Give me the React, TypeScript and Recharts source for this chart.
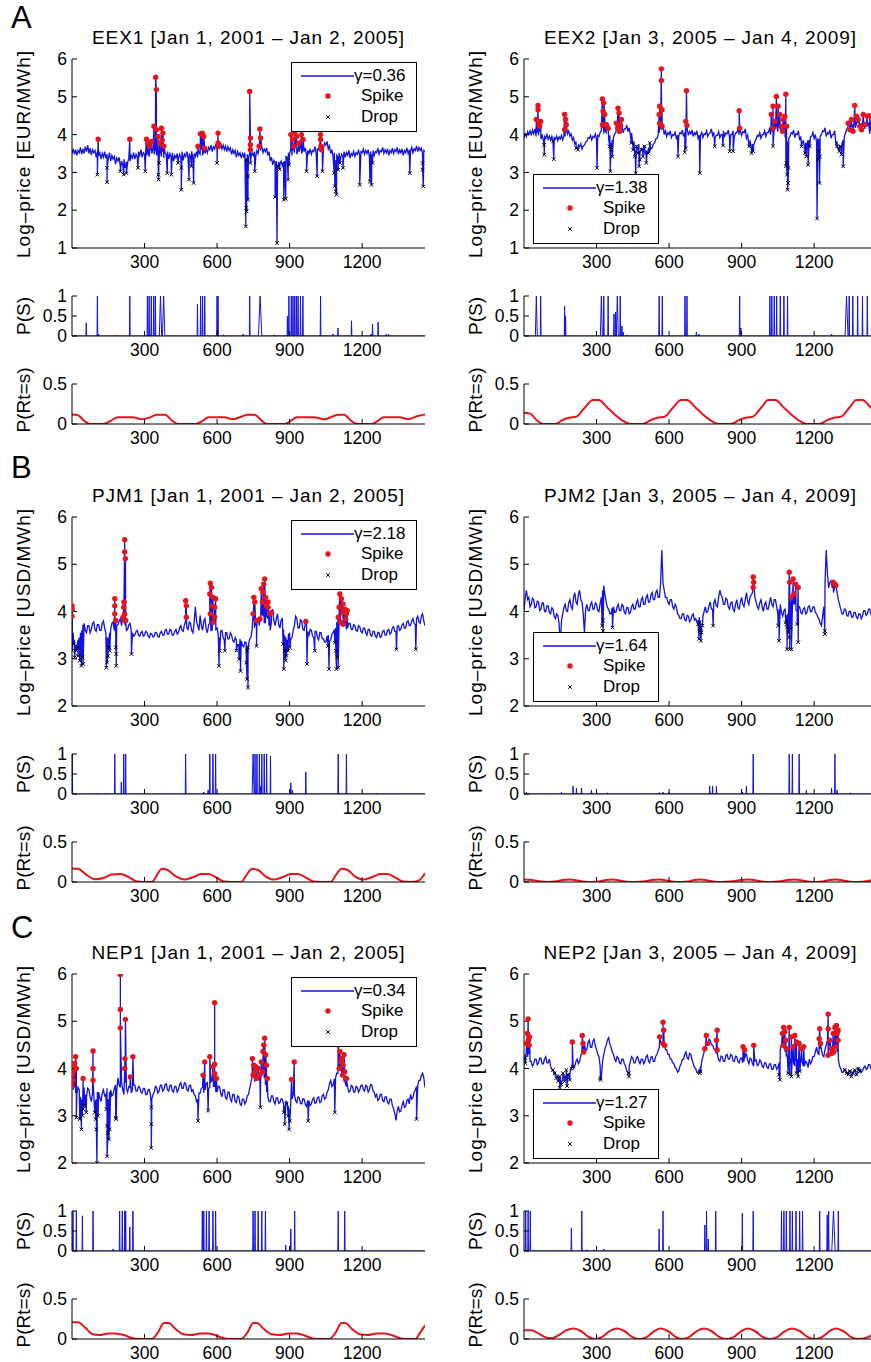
import React from "react"
import { ComposedChart, Line, Scatter, XAxis, YAxis } from "recharts"

const FONT = '"Liberation Sans", Arial, Helvetica, sans-serif'
const BLUE = "#1212e6"
const RED = "#e8141c"
const STEP = 5
const X_TICKS = [300, 600, 900, 1200]

// ---- EEX ----
const eex1Base = [
  3.5, 3.62, 3.48, 3.6, 3.45, 3.58, 3.52, 3.66, 3.48, 3.62, 3.5, 3.68, 3.55, 3.72, 3.5, 3.64, 3.46, 3.6, 3.52, 3.58,
  3.4, 3.55, 3.44, 3.52, 3.35, 3.5, 3.4, 3.55, 3.38, 3.48, 3.36, 3.52, 3.3, 3.45, 3.35, 3.42, 3.22, 3.38, 3.3, 3.4,
  3.15, 3.3, 3.2, 3.35, 3.12, 3.28, 3.25, 3.38, 3.3, 3.45, 3.38, 3.52, 3.35, 3.48, 3.4, 3.55, 3.45, 3.6, 3.4, 3.52,
  3.48, 3.6, 3.45, 3.55, 3.42, 3.58, 3.5, 3.62, 3.48, 3.62, 3.45, 3.6, 3.5, 3.58, 3.42, 3.55, 3.38, 3.52, 3.45, 3.55,
  3.35, 3.5, 3.4, 3.52, 3.3, 3.45, 3.38, 3.5, 3.35, 3.48, 3.4, 3.55, 3.32, 3.48, 3.42, 3.55, 3.38, 3.5, 3.42, 3.56,
  3.35, 3.5, 3.42, 3.55, 3.4, 3.52, 3.48, 3.6, 3.45, 3.58, 3.5, 3.62, 3.52, 3.66, 3.6, 3.72, 3.55, 3.68, 3.62, 3.75,
  3.6, 3.72, 3.65, 3.78, 3.62, 3.72, 3.6, 3.7, 3.55, 3.68, 3.58, 3.65, 3.48, 3.6, 3.5, 3.58, 3.4, 3.55, 3.45, 3.52,
  3.38, 3.5, 3.42, 3.52, 3.35, 3.48, 3.4, 3.5, 3.38, 3.52, 3.45, 3.55, 3.42, 3.58, 3.5, 3.65, 3.58, 3.68, 3.52, 3.62,
  3.55, 3.65, 3.45, 3.55, 3.3, 3.4, 3.2, 3.32, 3.25, 3.3, 3.15, 3.28, 3.22, 3.3, 3.18, 3.28, 3.3, 3.42, 3.4, 3.52,
  3.5, 3.62, 3.45, 3.58, 3.52, 3.65, 3.48, 3.6, 3.55, 3.68, 3.5, 3.62, 3.55, 3.65, 3.45, 3.58, 3.5, 3.62, 3.48, 3.58,
  3.55, 3.68, 3.5, 3.62, 3.6, 3.72, 3.55, 3.66, 3.65, 3.78, 3.72, 3.82, 3.62, 3.7, 3.5, 3.6, 3.4, 3.52, 3.32, 3.45,
  3.4, 3.52, 3.35, 3.48, 3.42, 3.55, 3.4, 3.52, 3.45, 3.58, 3.38, 3.5, 3.45, 3.56, 3.42, 3.52, 3.48, 3.6, 3.45, 3.55,
  3.52, 3.62, 3.48, 3.58, 3.5, 3.6, 3.42, 3.55, 3.48, 3.58, 3.45, 3.55, 3.52, 3.64, 3.48, 3.58, 3.55, 3.66, 3.5, 3.6,
  3.52, 3.62, 3.45, 3.58, 3.52, 3.64, 3.5, 3.6, 3.55, 3.66, 3.48, 3.6, 3.52, 3.62, 3.45, 3.58, 3.52, 3.65, 3.5, 3.6,
  3.55, 3.66, 3.52, 3.62, 3.58, 3.7, 3.55, 3.66, 3.58, 3.64, 3.48, 3.58, 3.55,
]
const eex1Spikes = [
  [108, 3.88], [239, 3.88], [308, 3.88], [314, 3.78], [321, 3.69], [328, 3.82], [339, 4.22], [346, 5.52],
  [349, 5.19], [349, 4.13], [356, 3.95], [363, 3.78], [370, 4.17], [373, 3.86], [376, 4.04], [380, 3.69],
  [521, 3.69], [531, 4.02], [539, 4.04], [545, 3.95], [549, 3.64], [604, 4.04], [604, 3.78], [607, 3.69],
  [735, 5.14], [738, 3.91], [738, 3.73], [738, 3.6], [777, 4.15], [780, 3.91], [774, 3.69], [905, 4.0],
  [912, 3.87], [919, 3.69], [922, 4.04], [928, 3.95], [938, 3.78], [949, 4.0], [956, 3.87], [1028, 4.0],
  [1028, 3.87], [1030, 3.69], [1032, 3.6],
]
const eex1Drops = [
  [105, 2.94], [145, 2.74], [145, 3.12], [200, 3.03], [214, 2.94], [225, 2.98], [273, 3.12], [303, 3.03],
  [357, 2.94], [358, 2.81], [360, 3.25], [394, 2.98], [411, 2.94], [439, 3.25], [452, 3.12], [452, 2.54],
  [484, 2.81], [494, 3.16], [503, 2.72], [600, 3.25], [719, 1.57], [721, 2.06], [722, 1.97], [728, 2.28],
  [728, 2.9], [721, 3.34], [738, 3.25], [756, 3.03], [840, 2.35], [848, 1.13], [852, 3.16], [859, 3.08],
  [876, 2.28], [884, 2.3], [894, 2.81], [898, 3.2], [970, 3.03], [1014, 2.9], [1036, 3.03], [1084, 2.98],
  [1087, 2.63], [1091, 2.5], [1094, 2.41], [1101, 3.07], [1108, 3.25], [1121, 3.12], [1190, 2.67],
  [1232, 2.76], [1239, 2.67], [1243, 3.25], [1397, 2.98], [1450, 3.25], [1453, 2.63], [1450, 3.07],
]
const eex1PS = [
  [59, 0.33], [105, 1], [110, 0.05], [177, 0.02], [239, 1], [312, 1], [319, 1], [328, 1], [338, 1], [345, 1],
  [366, 1, 5], [379, 1, 5], [519, 0.8], [532, 1], [540, 1], [549, 1], [600, 1], [604, 1], [627, 0.03],
  [708, 0.05], [735, 1], [778, 1, 7], [835, 0.03], [891, 0.5], [897, 1], [907, 1], [914, 1], [921, 1],
  [928, 1], [935, 1], [945, 1], [955, 1], [1028, 1], [1080, 0.05], [1100, 0.2], [1156, 0.38], [1237, 0.05],
  [1243, 0.3], [1266, 0.35], [1300, 0.05], [1310, 0.04],
]
const eex1PR = [
  [0, 0.12], [25, 0.11], [50, 0.04], [75, 0], [130, 0], [160, 0.04], [190, 0.085], [250, 0.085], [290, 0.06],
  [320, 0.08], [350, 0.115], [385, 0.115], [415, 0.04], [440, 0], [510, 0], [540, 0.04], [565, 0.085],
  [630, 0.085], [665, 0.06], [700, 0.09], [725, 0.115], [755, 0.115], [785, 0.04], [805, 0], [880, 0],
  [905, 0.04], [930, 0.085], [1000, 0.085], [1045, 0.06], [1075, 0.09], [1100, 0.115], [1125, 0.115],
  [1155, 0.04], [1180, 0], [1240, 0], [1265, 0.04], [1290, 0.085], [1355, 0.085], [1390, 0.06],
  [1430, 0.1], [1460, 0.12],
]

const eex2Base = [
  3.9, 4.02, 3.95, 4.08, 4.0, 4.1, 3.98, 4.12, 4.02, 4.15, 3.95, 4.05, 3.98, 4.08, 3.88, 3.98, 3.85, 3.95, 3.9, 4.0,
  3.88, 3.96, 3.85, 3.95, 3.82, 3.92, 3.88, 3.96, 3.84, 3.94, 3.88, 3.98, 3.86, 3.96, 3.95, 4.05, 4.02, 4.1, 3.96, 4.02,
  3.85, 3.92, 3.75, 3.82, 3.65, 3.72, 3.68, 3.76, 3.62, 3.7, 3.72, 3.8, 3.82, 3.92, 3.9, 3.98, 3.86, 3.95, 3.92, 4.02,
  3.88, 3.98, 3.95, 4.06, 4.1, 4.18, 4.02, 4.1, 4.05, 4.15, 3.9, 3.98, 3.78, 3.86, 3.92, 4.02, 4.05, 4.15, 4.02, 4.12,
  4.12, 4.22, 4.05, 4.15, 4.15, 4.25, 4.08, 4.18, 3.98, 4.05, 3.72, 3.82, 3.58, 3.68, 3.65, 3.75, 3.52, 3.62, 3.6, 3.7,
  3.48, 3.58, 3.58, 3.66, 3.52, 3.62, 3.65, 3.75, 3.78, 3.88, 3.9, 4.0, 4.05, 4.15, 4.12, 4.25, 4.0, 4.1, 3.95, 4.05,
  4.0, 4.1, 3.92, 4.0, 3.98, 4.06, 3.9, 3.98, 3.96, 4.05, 4.02, 4.12, 3.95, 4.05, 4.05, 4.15, 3.98, 4.08, 4.02, 4.12,
  3.95, 4.05, 4.0, 4.1, 3.9, 3.98, 3.98, 4.06, 3.92, 4.02, 4.0, 4.1, 3.95, 4.02, 4.05, 4.15, 3.98, 4.06, 3.9, 3.98,
  3.98, 4.08, 3.92, 4.0, 4.0, 4.1, 3.95, 4.04, 4.02, 4.12, 3.92, 4.0, 4.0, 4.1, 3.95, 4.04, 4.05, 4.15, 4.0, 4.1,
  3.98, 4.08, 4.05, 4.15, 3.9, 3.98, 3.75, 3.85, 3.65, 3.75, 3.72, 3.82, 3.88, 3.98, 3.95, 4.05, 3.9, 4.0, 4.0, 4.1,
  3.95, 4.05, 4.05, 4.15, 4.0, 4.1, 4.1, 4.2, 4.15, 4.25, 4.08, 4.18, 4.12, 4.22, 4.05, 4.15, 3.92, 4.0, 3.82, 3.9,
  3.95, 4.05, 4.02, 4.12, 3.92, 4.02, 4.0, 4.1, 3.85, 3.95, 3.75, 3.85, 3.68, 3.78, 3.75, 3.85, 3.85, 3.95, 3.96, 4.06,
  3.9, 4.0, 3.8, 3.9, 3.88, 3.96, 4.0, 4.1, 4.08, 4.18, 3.95, 4.05, 4.02, 4.12, 3.9, 4.0, 4.0, 4.1, 3.75, 3.82,
  3.62, 3.7, 3.68, 3.76, 3.85, 3.95, 4.05, 4.15, 4.2, 4.3, 4.12, 4.22, 4.25, 4.35, 4.18, 4.28, 4.3, 4.4, 4.2, 4.3,
  4.25, 4.35, 4.15, 4.25, 4.22, 4.32, 4.02, 4.12, 4.08, 4.18, 4.0, 4.1, 4.05,
]
const eex2Spikes = [
  [58, 4.77], [58, 4.66], [51, 4.4], [62, 4.26], [69, 4.35], [65, 4.22], [168, 4.53], [172, 4.4], [175, 4.26],
  [168, 4.13], [324, 4.94], [330, 4.84], [327, 4.62], [334, 4.53], [341, 4.26], [324, 4.26], [348, 4.17],
  [389, 4.7], [393, 4.57], [382, 4.3], [389, 4.17], [399, 4.24], [403, 4.4], [396, 4.09], [568, 5.74],
  [568, 5.43], [561, 4.75], [571, 4.66], [559, 4.53], [561, 4.3], [571, 4.22], [672, 5.16], [669, 4.35],
  [674, 4.24], [890, 4.63], [892, 4.17], [1044, 5.01], [1051, 4.75], [1030, 4.75], [1023, 4.53], [1037, 4.35],
  [1058, 4.53], [1065, 4.22], [1072, 4.4], [1083, 5.07], [1079, 4.49], [1086, 4.22], [1069, 4.09], [1030, 4.17],
  [1341, 4.3], [1354, 4.4], [1368, 4.77], [1375, 4.49], [1389, 4.22], [1403, 4.53], [1419, 4.49], [1348, 4.13],
  [1361, 4.09], [1382, 4.4], [1396, 4.13], [1410, 4.26], [1430, 4.5],
]
const eex2Drops = [
  [83, 3.73], [84, 3.47], [123, 3.35], [120, 3.82], [223, 3.6], [216, 3.64], [302, 3.12], [354, 3.69],
  [357, 3.03], [361, 3.6], [365, 3.42], [444, 3.78], [451, 3.6], [458, 3.42], [465, 3.69], [472, 3.51],
  [479, 3.34], [486, 3.6], [492, 3.42], [499, 3.69], [506, 3.25], [513, 3.51], [520, 3.78], [476, 3.16],
  [462, 2.98], [637, 3.42], [665, 3.53], [669, 3.64], [727, 2.98], [789, 3.69], [823, 3.71], [851, 3.56],
  [865, 3.56], [931, 3.69], [941, 3.51], [948, 3.56], [1030, 3.69], [1086, 3.25], [1088, 2.94], [1090, 2.54],
  [1083, 3.16], [1094, 3.12], [1092, 2.72], [1148, 3.69], [1162, 3.51], [1175, 3.2], [1182, 3.69],
  [1168, 3.42], [1212, 1.78], [1217, 3.34], [1222, 2.72], [1219, 3.56], [1224, 3.42], [1295, 3.69],
  [1304, 3.56], [1313, 3.47], [1320, 3.16], [1308, 3.69],
]
const eex2PS = [
  [51, 1, 4], [69, 1], [168, 0.75], [172, 0.5], [320, 1, 4], [330, 1], [348, 1], [372, 0.55], [379, 0.6],
  [386, 1, 4], [398, 1], [405, 0.25], [410, 0.1], [425, 0.03], [559, 1], [572, 1], [666, 1], [674, 1],
  [713, 0.1], [724, 0.05], [892, 1], [897, 0.2], [1017, 1], [1025, 1], [1035, 1], [1045, 1], [1060, 1],
  [1075, 1], [1090, 1], [1272, 0.05], [1334, 1, 6], [1345, 1], [1360, 1], [1380, 1], [1400, 1], [1420, 1],
]
const eex2PR = [
  [0, 0.14], [25, 0.13], [55, 0.04], [80, 0], [130, 0], [160, 0.05], [190, 0.08], [215, 0.09], [250, 0.2],
  [285, 0.3], [310, 0.3], [340, 0.22], [375, 0.12], [410, 0.04], [440, 0], [490, 0], [525, 0.05], [555, 0.08],
  [580, 0.09], [615, 0.2], [650, 0.3], [675, 0.3], [705, 0.22], [740, 0.12], [775, 0.04], [805, 0], [855, 0],
  [890, 0.05], [920, 0.08], [945, 0.09], [980, 0.2], [1010, 0.3], [1040, 0.3], [1070, 0.22], [1105, 0.12],
  [1140, 0.04], [1170, 0], [1220, 0], [1255, 0.05], [1285, 0.08], [1310, 0.09], [1345, 0.2], [1375, 0.3],
  [1400, 0.3], [1430, 0.22], [1460, 0.12],
]

// ---- PJM ----
const pjm1Base = [
  3.75, 3.55, 3.4, 3.3, 3.25, 3.4, 3.45, 3.55, 3.6, 3.72, 3.75, 3.6, 3.55, 3.7, 3.7, 3.55, 3.62, 3.75, 3.78, 3.62,
  3.58, 3.72, 3.72, 3.6, 3.6, 3.75, 3.8, 3.65, 3.55, 3.45, 3.45, 3.55, 3.62, 3.75, 3.78, 3.6, 3.55, 3.7, 3.72, 3.8,
  3.85, 3.7, 3.9, 3.75, 3.7, 3.6, 3.62, 3.72, 3.75, 3.6, 3.55, 3.48, 3.5, 3.58, 3.6, 3.5, 3.48, 3.55, 3.58, 3.48,
  3.5, 3.58, 3.56, 3.48, 3.45, 3.54, 3.52, 3.46, 3.48, 3.56, 3.55, 3.47, 3.46, 3.55, 3.58, 3.5, 3.5, 3.6, 3.62, 3.52,
  3.52, 3.62, 3.6, 3.5, 3.5, 3.58, 3.62, 3.52, 3.55, 3.65, 3.7, 3.6, 3.58, 3.72, 3.8, 3.65, 3.62, 3.78, 3.75, 3.6,
  3.55, 3.75, 4.1, 3.8, 3.7, 3.6, 3.92, 3.7, 3.6, 3.8, 3.85, 3.62, 3.55, 3.72, 3.75, 3.58, 3.6, 3.75, 3.8, 3.62,
  3.65, 3.5, 3.45, 3.58, 3.6, 3.45, 3.4, 3.55, 3.55, 3.42, 3.42, 3.55, 3.5, 3.38, 3.35, 3.45, 3.4, 3.3, 3.3, 3.42,
  3.38, 3.28, 3.25, 3.35, 3.35, 3.25, 3.3, 3.42, 3.45, 3.62, 3.8, 3.65, 3.7, 3.85, 3.85, 3.7, 3.78, 3.92, 3.9, 3.75,
  3.75, 3.9, 3.85, 3.7, 3.6, 3.8, 4.05, 3.8, 3.7, 3.85, 3.95, 3.72, 3.65, 3.82, 3.85, 3.62, 3.5, 3.45, 3.4, 3.5,
  3.55, 3.42, 3.45, 3.6, 3.7, 3.9, 3.85, 3.65, 3.65, 3.82, 3.8, 3.62, 3.6, 3.75, 3.75, 3.58, 3.5, 3.62, 3.6, 3.48,
  3.45, 3.58, 3.58, 3.45, 3.4, 3.55, 3.55, 3.42, 3.42, 3.35, 3.35, 3.48, 3.5, 3.38, 3.4, 3.52, 3.55, 3.62, 3.65, 3.78,
  3.8, 3.88, 3.85, 3.95, 3.9, 3.78, 3.7, 3.62, 3.65, 3.75, 3.75, 3.62, 3.62, 3.72, 3.7, 3.6, 3.58, 3.7, 3.68, 3.58,
  3.55, 3.65, 3.65, 3.55, 3.5, 3.62, 3.62, 3.5, 3.48, 3.58, 3.58, 3.48, 3.45, 3.56, 3.55, 3.45, 3.48, 3.58, 3.6, 3.5,
  3.5, 3.6, 3.62, 3.52, 3.55, 3.65, 3.68, 3.58, 3.58, 3.68, 3.7, 3.6, 3.62, 3.72, 3.75, 3.65, 3.65, 3.78, 3.8, 3.7,
  3.7, 3.8, 3.85, 3.75, 3.72, 3.85, 3.9, 3.78, 3.75, 3.9, 3.95, 3.8, 3.7,
]
const pjm1Spikes = [
  [0, 4.12], [0, 3.9], [1, 4.05], [177, 4.27], [177, 4.12], [177, 3.95], [181, 3.81], [218, 5.52], [218, 5.26],
  [221, 5.12], [215, 4.2], [214, 4.09], [218, 3.95], [222, 3.81], [211, 3.88], [470, 4.23], [473, 4.12],
  [473, 3.88], [572, 4.6], [577, 4.51], [570, 4.37], [583, 4.3], [581, 4.12], [590, 4.09], [572, 3.95],
  [590, 3.88], [583, 3.77], [594, 4.27], [752, 4.3], [756, 4.2], [749, 3.95], [763, 3.81], [777, 3.84],
  [790, 4.41], [797, 4.69], [793, 4.58], [801, 4.3], [804, 4.12], [811, 4.09], [818, 3.95], [825, 3.98],
  [788, 4.2], [783, 4.48], [811, 4.2], [967, 3.79], [1108, 4.37], [1114, 4.27], [1121, 4.16], [1128, 4.05],
  [1135, 3.95], [1101, 3.88], [1110, 3.77], [1121, 3.73], [1132, 3.84], [1138, 4.02], [1105, 4.09], [1119, 3.98],
]
const pjm1Drops = [
  [1, 3.17], [7, 3.31], [11, 3.03], [18, 3.17], [25, 3.06], [32, 2.96], [39, 2.85], [43, 3.03], [46, 2.89],
  [25, 3.24], [149, 3.06], [145, 2.92], [142, 2.81], [153, 3.24], [156, 3.17], [181, 3.24], [183, 3.1],
  [183, 2.85], [246, 3.1], [608, 2.85], [611, 3.17], [632, 3.17], [680, 3.17], [691, 2.99], [697, 2.74],
  [721, 2.92], [724, 2.57], [728, 2.39], [724, 3.17], [728, 3.24], [763, 3.27], [873, 3.31], [880, 3.17],
  [887, 3.06], [894, 3.17], [884, 2.96], [876, 2.78], [901, 3.24], [972, 2.89], [1004, 3.17], [1059, 3.27],
  [1063, 2.78], [1087, 3.34], [1091, 3.17], [1094, 2.78], [1101, 2.81], [1097, 3.03], [1342, 3.2], [1422, 3.2],
]
const pjm1PS = [
  [1, 1], [100, 0.02], [140, 0.02], [177, 1], [204, 0.3], [214, 1], [222, 1], [470, 1], [545, 0.05],
  [563, 0.1], [570, 1], [583, 1], [594, 1], [749, 1, 4], [757, 1], [765, 1], [775, 1], [780, 0.2], [785, 1],
  [795, 1], [805, 1], [821, 0.95], [905, 0.28], [912, 0.1], [967, 0.55], [1101, 1], [1135, 1], [1260, 0.02],
]
const pjm1PR = [
  [0, 0.17], [25, 0.165], [60, 0.09], [95, 0.035], [130, 0.05], [165, 0.095], [200, 0.1], [235, 0.06],
  [265, 0.01], [290, 0], [330, 0], [350, 0.08], [372, 0.165], [395, 0.15], [430, 0.07], [465, 0.03],
  [500, 0.06], [535, 0.1], [565, 0.1], [600, 0.05], [630, 0.005], [660, 0], [700, 0], [720, 0.08],
  [745, 0.165], [770, 0.15], [800, 0.07], [835, 0.03], [870, 0.06], [905, 0.1], [935, 0.1], [970, 0.05],
  [1000, 0.005], [1030, 0], [1070, 0], [1090, 0.08], [1115, 0.165], [1140, 0.15], [1170, 0.07],
  [1205, 0.03], [1240, 0.06], [1275, 0.1], [1305, 0.1], [1340, 0.05], [1370, 0.005], [1400, 0],
  [1435, 0.02], [1460, 0.11],
]

const pjm2Base = [
  4.02, 4.3, 4.45, 4.25, 4.3, 4.1, 4.15, 4.28, 4.25, 4.08, 4.1, 4.22, 4.2, 4.02, 4.05, 4.18, 4.18, 4.0, 4.0, 4.12,
  4.12, 3.98, 3.95, 4.08, 4.05, 3.9, 3.85, 3.95, 3.92, 3.75, 3.3, 3.8, 3.95, 4.08, 4.15, 4.02, 4.0, 4.18, 4.25, 4.1,
  4.05, 4.3, 4.4, 4.2, 4.15, 4.35, 4.45, 4.25, 4.2, 3.95, 3.55, 4.05, 4.15, 4.02, 4.02, 4.15, 4.2, 4.05, 4.05, 4.18,
  4.15, 4.02, 4.0, 4.18, 4.3, 4.45, 4.55, 4.35, 4.2, 4.08, 4.05, 3.95, 3.95, 4.08, 4.1, 3.98, 3.98, 4.1, 4.15, 4.02,
  4.02, 4.15, 4.12, 3.98, 3.95, 4.08, 4.08, 3.95, 3.98, 4.1, 4.15, 4.05, 4.05, 4.18, 4.25, 4.1, 4.1, 4.25, 4.3, 4.15,
  4.15, 4.3, 4.35, 4.2, 4.2, 4.35, 4.4, 4.25, 4.25, 4.4, 4.45, 4.3, 4.3, 4.6, 5.3, 4.6, 4.45, 4.3, 4.3, 4.2,
  4.15, 4.25, 4.25, 4.1, 4.05, 4.15, 4.1, 3.95, 3.92, 3.85, 3.85, 3.95, 3.95, 3.82, 3.8, 3.92, 3.9, 3.78, 3.82, 3.92,
  3.95, 3.82, 3.85, 3.78, 3.8, 3.88, 3.75, 3.68, 3.9, 4.0, 4.1, 3.98, 4.0, 4.12, 4.2, 4.05, 4.05, 4.18, 4.25, 4.12,
  4.1, 4.3, 4.45, 4.35, 4.3, 4.15, 4.15, 4.28, 4.25, 4.1, 4.05, 4.18, 4.2, 4.05, 4.0, 4.15, 4.25, 4.08, 4.05, 4.2,
  4.3, 4.15, 4.1, 4.25, 4.4, 4.22, 4.15, 4.3, 4.35, 4.4, 4.45, 4.3, 4.2, 4.1, 4.05, 4.18, 4.25, 4.1, 4.0, 4.15,
  4.2, 4.05, 4.05, 4.18, 4.3, 4.15, 4.1, 4.25, 4.25, 4.1, 3.95, 4.05, 4.15, 3.98, 3.9, 4.02, 4.05, 3.92, 3.95, 4.05,
  4.2, 4.08, 4.05, 4.15, 4.15, 4.02, 4.0, 4.12, 4.1, 3.98, 3.95, 4.05, 4.08, 3.95, 3.98, 4.1, 4.12, 4.0, 4.0, 4.1,
  4.1, 3.98, 3.95, 3.88, 3.85, 3.75, 3.7, 3.9, 4.1, 4.6, 5.3, 4.8, 4.5, 4.62, 4.65, 4.5, 4.4, 4.52, 4.55, 4.4,
  4.25, 4.15, 4.05, 3.95, 3.95, 4.05, 4.05, 3.92, 3.9, 4.0, 4.0, 3.88, 3.88, 3.98, 3.98, 3.88, 3.85, 3.95, 3.95, 3.85,
  3.9, 4.02, 4.02, 3.92, 3.95, 4.05, 4.05, 3.95, 4.0, 4.08, 3.95, 3.98, 4.02,
]
const pjm2Spikes = [
  [948, 4.73], [950, 4.62], [948, 4.51], [1097, 4.83], [1099, 4.62], [1113, 4.69], [1124, 4.58], [1134, 4.51],
  [1106, 4.3], [1116, 4.37], [1279, 4.62], [1286, 4.58], [1290, 4.55],
]
const pjm2Drops = [
  [327, 3.81], [327, 3.59], [323, 3.7], [366, 3.66], [727, 3.77], [730, 3.66], [734, 3.56], [724, 3.42],
  [731, 3.38], [727, 3.59], [738, 3.7], [720, 3.73], [782, 3.7], [1051, 3.7], [1055, 3.38], [1086, 3.73],
  [1088, 3.66], [1092, 3.56], [1097, 3.45], [1099, 3.2], [1088, 3.2], [1106, 3.2], [1102, 3.63], [1083, 3.77],
  [1130, 3.73], [1134, 3.35], [1244, 3.59], [1244, 3.52],
]
const pjm2PS = [
  [10, 0.05], [155, 0.05], [203, 0.2], [217, 0.15], [238, 0.15], [279, 0.1], [300, 0.05], [345, 0.03],
  [560, 0.04], [575, 0.05], [600, 0.04], [768, 0.2], [780, 0.2], [796, 0.2], [904, 0.05], [920, 0.2],
  [948, 1], [1097, 1], [1110, 1], [1138, 1], [1168, 0.1], [1272, 0.15], [1286, 1], [1295, 0.1], [1350, 0.03],
]
const pjm2PR = [
  [0, 0.03], [30, 0.025], [70, 0.005], [100, 0], [130, 0.005], [160, 0.025], [190, 0.03], [220, 0.02],
  [250, 0.003], [280, 0], [310, 0.005], [340, 0.025], [365, 0.03], [395, 0.02], [425, 0.003], [460, 0],
  [495, 0.005], [530, 0.025], [560, 0.03], [590, 0.02], [620, 0.003], [650, 0], [680, 0.005], [705, 0.025],
  [730, 0.03], [760, 0.02], [790, 0.003], [820, 0], [855, 0.005], [900, 0.025], [930, 0.03], [960, 0.02],
  [990, 0.003], [1020, 0], [1055, 0.005], [1090, 0.025], [1120, 0.03], [1150, 0.02], [1180, 0.003],
  [1210, 0], [1235, 0.005], [1265, 0.025], [1290, 0.03], [1320, 0.02], [1350, 0.003], [1380, 0],
  [1410, 0.005], [1440, 0.025], [1460, 0.03],
]

// ---- NEP ----
const nep1Base = [
  3.7, 3.55, 3.6, 3.48, 3.45, 3.6, 3.55, 3.4, 3.35, 3.5, 3.6, 3.45, 3.4, 3.58, 3.55, 3.4, 3.3, 3.48, 3.45, 3.32,
  3.35, 3.5, 3.5, 3.38, 3.3, 3.48, 3.55, 3.42, 3.45, 3.58, 3.35, 3.5, 3.55, 3.42, 3.45, 3.58, 3.65, 3.52, 3.8, 3.65,
  3.6, 3.72, 3.55, 3.45, 3.7, 3.58, 3.5, 3.62, 3.6, 3.48, 3.55, 3.65, 3.65, 3.52, 3.52, 3.62, 3.6, 3.5, 3.48, 3.58,
  3.58, 3.45, 3.45, 3.55, 3.55, 3.42, 3.35, 3.45, 3.5, 3.62, 3.6, 3.48, 3.52, 3.64, 3.65, 3.52, 3.55, 3.66, 3.68, 3.55,
  3.52, 3.64, 3.65, 3.52, 3.5, 3.62, 3.62, 3.5, 3.55, 3.66, 3.7, 3.58, 3.58, 3.7, 3.68, 3.55, 3.52, 3.64, 3.65, 3.52,
  3.55, 3.45, 3.42, 3.3, 3.35, 3.48, 3.48, 3.58, 3.6, 3.48, 3.55, 3.68, 3.7, 3.58, 3.6, 3.72, 3.75, 3.62, 3.62, 3.5,
  3.5, 3.62, 3.62, 3.48, 3.4, 3.55, 3.55, 3.38, 3.35, 3.5, 3.5, 3.35, 3.3, 3.45, 3.45, 3.3, 3.28, 3.42, 3.4, 3.25,
  3.22, 3.35, 3.35, 3.25, 3.3, 3.42, 3.45, 3.58, 3.7, 3.82, 3.85, 3.72, 3.75, 3.9, 3.9, 3.75, 3.7, 3.85, 3.95, 3.8,
  3.65, 3.5, 3.4, 3.3, 3.3, 3.42, 3.42, 3.3, 3.25, 3.38, 3.38, 3.26, 3.28, 3.36, 3.35, 3.25, 3.2, 3.32, 3.3, 3.2,
  3.15, 3.3, 3.35, 3.45, 3.45, 3.32, 3.28, 3.4, 3.38, 3.26, 3.25, 3.36, 3.35, 3.24, 3.2, 3.32, 3.32, 3.22, 3.25, 3.35,
  3.38, 3.26, 3.28, 3.38, 3.4, 3.28, 3.3, 3.42, 3.45, 3.35, 3.38, 3.5, 3.55, 3.68, 3.75, 3.62, 3.65, 3.78, 3.8, 3.9,
  3.9, 4.0, 4.05, 3.9, 3.85, 3.72, 3.7, 3.62, 3.6, 3.5, 3.52, 3.64, 3.62, 3.5, 3.5, 3.62, 3.6, 3.5, 3.55, 3.64,
  3.65, 3.55, 3.52, 3.64, 3.62, 3.5, 3.55, 3.66, 3.65, 3.52, 3.5, 3.4, 3.45, 3.32, 3.35, 3.45, 3.45, 3.32, 3.3, 3.4,
  3.4, 3.28, 3.25, 3.35, 3.35, 3.22, 3.15, 3.05, 2.9, 3.1, 3.2, 3.08, 3.1, 3.22, 3.3, 3.18, 3.2, 3.32, 3.35, 3.25,
  3.45, 3.35, 3.38, 3.5, 3.55, 3.62, 3.65, 3.75, 3.75, 3.85, 3.9, 3.8, 3.6,
]
const nep1Spikes = [
  [0, 3.64], [4, 3.75], [7, 3.93], [11, 4.11], [15, 4.25], [7, 4.07], [18, 4.0], [1, 3.86], [46, 3.79],
  [87, 4.37], [87, 4.0], [87, 3.75], [200, 5.99], [200, 5.25], [200, 4.86], [221, 5.04], [219, 4.21],
  [218, 4.0], [241, 3.82], [252, 4.25], [542, 3.86], [549, 4.14], [570, 4.25], [590, 4.09], [590, 5.39],
  [590, 3.89], [597, 3.79], [583, 4.04], [746, 4.21], [752, 4.07], [756, 3.93], [763, 3.79], [770, 4.0],
  [777, 3.86], [783, 4.14], [790, 4.36], [793, 4.5], [797, 4.64], [801, 4.29], [804, 4.07], [788, 3.93],
  [808, 3.79], [749, 3.86], [760, 4.04], [908, 3.77], [919, 4.14], [1101, 4.5], [1108, 4.36], [1115, 4.21],
  [1121, 4.07], [1128, 3.93], [1105, 4.0], [1119, 3.86], [1135, 3.79], [1112, 4.14], [1125, 4.29],
]
const nep1Drops = [
  [18, 2.96], [32, 2.93], [39, 2.71], [46, 3.14], [52, 3.21], [59, 3.07], [43, 3.0], [94, 3.07], [98, 2.93],
  [101, 2.71], [103, 2.0], [108, 3.0], [142, 3.14], [145, 2.79], [149, 2.64], [145, 2.14], [153, 2.5],
  [156, 2.71], [181, 2.96], [183, 2.93], [328, 3.18], [328, 2.82], [328, 2.32], [521, 2.89], [563, 3.11],
  [779, 3.18], [876, 3.07], [880, 2.82], [887, 3.25], [894, 3.0], [898, 2.71], [901, 2.89], [977, 2.89],
  [1087, 3.07], [1425, 2.93],
]
const nep1PS = [
  [4, 1], [18, 1], [43, 0.88], [87, 1], [170, 0.05], [197, 1], [208, 1], [218, 1], [222, 1], [239, 0.6],
  [252, 1], [539, 1], [545, 1], [556, 1], [567, 1], [583, 1], [594, 1], [749, 1], [757, 1], [770, 1],
  [785, 1], [800, 1], [884, 0.15], [905, 0.55], [921, 1], [1101, 1], [1128, 1], [1210, 0.03],
]
const nep1PR = [
  [0, 0.21], [25, 0.21], [55, 0.14], [85, 0.06], [115, 0.05], [150, 0.07], [180, 0.07], [215, 0.05],
  [250, 0.01], [280, 0], [330, 0], [355, 0.08], [380, 0.2], [400, 0.2], [430, 0.12], [460, 0.06],
  [495, 0.05], [530, 0.07], [565, 0.07], [600, 0.04], [630, 0.005], [650, 0], [700, 0], [725, 0.08],
  [750, 0.2], [765, 0.2], [795, 0.12], [825, 0.06], [860, 0.05], [895, 0.07], [930, 0.07], [965, 0.04],
  [995, 0.005], [1015, 0], [1065, 0], [1090, 0.08], [1115, 0.2], [1130, 0.2], [1160, 0.12], [1190, 0.06],
  [1225, 0.05], [1260, 0.07], [1295, 0.07], [1330, 0.04], [1360, 0.005], [1380, 0], [1420, 0],
  [1440, 0.08], [1460, 0.17],
]

const nep2Base = [
  4.15, 4.3, 4.4, 4.25, 4.3, 4.15, 4.15, 4.05, 4.1, 4.2, 4.2, 4.08, 4.12, 4.22, 4.22, 4.1, 4.1, 4.2, 4.25, 4.12,
  4.12, 4.2, 4.05, 3.98, 3.95, 3.88, 3.9, 3.82, 3.85, 3.78, 3.8, 3.72, 3.75, 3.85, 3.85, 3.76, 3.78, 3.88, 3.9, 4.0,
  4.1, 4.0, 4.05, 4.15, 4.2, 4.1, 4.15, 4.28, 4.35, 4.45, 4.5, 4.38, 4.4, 4.55, 4.6, 4.45, 4.45, 4.58, 4.62, 4.48,
  4.4, 4.3, 4.25, 4.05, 3.85, 4.15, 4.3, 4.42, 4.5, 4.6, 4.65, 4.52, 4.45, 4.35, 4.3, 4.2, 4.15, 4.25, 4.22, 4.12,
  4.1, 4.2, 4.2, 4.1, 4.05, 3.95, 3.9, 4.05, 4.15, 4.25, 4.22, 4.12, 4.12, 4.22, 4.25, 4.15, 4.1, 4.2, 4.2, 4.1,
  4.15, 4.25, 4.28, 4.16, 4.12, 4.24, 4.25, 4.15, 4.15, 4.26, 4.3, 4.38, 4.45, 4.55, 4.55, 4.45, 4.5, 4.4, 4.4, 4.3,
  4.3, 4.2, 4.2, 4.12, 4.1, 4.02, 4.0, 3.92, 3.95, 4.05, 4.1, 4.2, 4.2, 4.3, 4.35, 4.22, 4.2, 4.32, 4.3, 4.18,
  4.1, 4.02, 4.0, 3.92, 3.9, 3.98, 4.05, 4.15, 4.25, 4.35, 4.4, 4.5, 4.5, 4.62, 4.6, 4.5, 4.5, 4.42, 4.4, 4.32,
  4.3, 4.18, 4.15, 4.26, 4.25, 4.15, 4.15, 4.28, 4.3, 4.2, 4.2, 4.3, 4.28, 4.16, 4.15, 4.26, 4.25, 4.14, 4.12, 4.22,
  4.22, 4.12, 4.15, 4.25, 4.3, 4.18, 4.1, 4.22, 4.2, 4.1, 4.05, 4.16, 4.18, 4.06, 4.08, 4.18, 4.15, 4.05, 4.02, 4.12,
  4.12, 4.02, 4.0, 4.1, 4.1, 3.98, 3.98, 4.08, 4.08, 3.98, 4.02, 4.12, 4.4, 4.5, 4.55, 4.42, 4.35, 4.25, 4.2, 4.3,
  4.1, 4.22, 4.25, 4.12, 4.05, 4.15, 4.2, 4.08, 4.1, 4.2, 4.15, 4.05, 4.05, 4.15, 4.12, 4.02, 4.2, 4.1, 4.15, 4.25,
  4.25, 4.35, 4.45, 4.32, 4.3, 4.42, 4.4, 4.28, 4.25, 4.4, 4.5, 4.6, 4.6, 4.48, 4.4, 4.3, 4.35, 4.45, 4.5, 4.35,
  4.2, 4.05, 4.0, 3.92, 3.92, 3.98, 3.98, 3.9, 3.9, 3.96, 3.95, 3.88, 3.88, 3.96, 3.95, 3.88, 3.9, 3.98, 4.0, 3.92,
  3.95, 4.02, 4.05, 3.98, 4.0, 4.08, 4.08, 4.0, 4.02, 4.1, 4.1, 4.02, 4.05,
]
const nep2Spikes = [
  [17, 5.05], [14, 4.74], [18, 4.6], [21, 4.49], [23, 4.67], [10, 4.53], [200, 4.56], [241, 4.7], [244, 4.53],
  [247, 4.35], [561, 4.67], [575, 4.98], [578, 4.81], [575, 4.53], [582, 4.49], [748, 4.42], [754, 4.7],
  [759, 4.53], [799, 4.81], [796, 4.6], [799, 4.39], [906, 4.46], [913, 4.39], [950, 4.49], [1069, 4.74],
  [1074, 4.87], [1079, 4.78], [1083, 4.6], [1086, 4.42], [1097, 4.87], [1106, 4.67], [1113, 4.46], [1120, 4.7],
  [1127, 4.56], [1138, 4.53], [1148, 4.42], [1157, 4.46], [1072, 4.49], [1223, 4.84], [1221, 4.63],
  [1226, 4.53], [1258, 5.15], [1258, 4.84], [1265, 4.6], [1258, 4.28], [1272, 4.42], [1279, 4.74],
  [1286, 4.87], [1292, 4.91], [1295, 4.74], [1299, 4.6], [1290, 4.46], [1281, 4.35], [1272, 4.32], [1299, 4.81],
]
const nep2Drops = [
  [3, 4.22], [6, 4.11], [120, 3.97], [127, 3.9], [134, 3.8], [141, 3.73], [148, 3.83], [154, 3.66], [161, 3.9],
  [168, 3.73], [175, 3.97], [182, 3.87], [189, 3.76], [196, 4.0], [148, 3.59], [178, 3.63], [203, 4.04],
  [316, 3.8], [316, 3.76], [434, 3.9], [434, 3.83], [727, 3.9], [730, 3.94], [1055, 3.87], [1058, 3.76],
  [1092, 3.9], [1099, 3.87], [1106, 3.83], [1127, 3.9], [1134, 3.83], [1141, 3.94], [1327, 3.97], [1334, 3.9],
  [1341, 3.87], [1348, 3.94], [1354, 3.83], [1361, 3.9], [1368, 3.97], [1375, 3.87], [1382, 4.0], [1389, 3.94],
]
const nep2PS = [
  [7, 1], [17, 1], [26, 1], [196, 0.57], [239, 1], [260, 0.03], [290, 0.03], [330, 0.05], [559, 0.55],
  [575, 1], [748, 0.65], [755, 1], [762, 0.3], [793, 1], [903, 0.95], [948, 1], [1065, 1], [1075, 1],
  [1085, 1], [1100, 1], [1110, 1], [1125, 1], [1140, 1], [1152, 1], [1223, 1], [1254, 0.9], [1260, 1],
  [1280, 1, 7], [1300, 1],
]
const nep2PR = [
  [0, 0.11], [30, 0.11], [60, 0.07], [90, 0.02], [115, 0.01], [145, 0.05], [175, 0.11], [205, 0.13],
  [235, 0.1], [265, 0.03], [290, 0], [320, 0.02], [350, 0.09], [385, 0.13], [415, 0.1], [445, 0.03],
  [475, 0], [505, 0.02], [535, 0.09], [565, 0.13], [595, 0.1], [625, 0.03], [650, 0], [680, 0.02],
  [710, 0.09], [745, 0.13], [775, 0.1], [805, 0.03], [835, 0], [865, 0.02], [895, 0.09], [925, 0.13],
  [955, 0.1], [985, 0.03], [1015, 0], [1045, 0.02], [1075, 0.09], [1110, 0.13], [1140, 0.1], [1170, 0.03],
  [1200, 0], [1230, 0.02], [1260, 0.09], [1290, 0.13], [1320, 0.1], [1350, 0.03], [1380, 0], [1410, 0.01],
  [1440, 0.05], [1460, 0.09],
]

// layout
const COL_X = [72, 524]
const ROW_Y = [59, 517, 974]
const LABEL_X = [23, 475]
const PW = 353
const PH = 189
const SH = 40
const PS_OFF = 237
const PR_OFF = 325
const ML = 50
const MT = 10
const MR = 10
const MB = 30

type Pt = { x: number; y: number }

const toPts = (pairs: number[][]): Pt[] => pairs.map(([x, y]) => ({ x, y }))

function priceLine(base: number[], spikes: number[][], drops: number[][]): Pt[] {
  const pts = base.map((v, i) => ({ x: i * STEP, y: v }))
  return [...pts, ...toPts(spikes), ...toPts(drops)].sort((a, b) => a.x - b.x)
}

function pulseLine(pulses: number[][]): Pt[] {
  const pts: Pt[] = [{ x: 0, y: 0 }, { x: 1460, y: 0 }]
  pulses.forEach(([d, h, w = 1.5]) => {
    pts.push({ x: d - w, y: 0 }, { x: d, y: h }, { x: d + w, y: 0 })
  })
  return pts.sort((a, b) => a.x - b.x)
}

const PANELS = [
  { title: "EEX1 [Jan 1, 2001 – Jan 2, 2005]", unit: "EUR", gamma: "0.36", base: eex1Base, spikes: eex1Spikes, drops: eex1Drops, ps: eex1PS, pr: eex1PR, col: 0, row: 0 },
  { title: "EEX2 [Jan 3, 2005 – Jan 4, 2009]", unit: "EUR", gamma: "1.38", base: eex2Base, spikes: eex2Spikes, drops: eex2Drops, ps: eex2PS, pr: eex2PR, col: 1, row: 0 },
  { title: "PJM1 [Jan 1, 2001 – Jan 2, 2005]", unit: "USD", gamma: "2.18", base: pjm1Base, spikes: pjm1Spikes, drops: pjm1Drops, ps: pjm1PS, pr: pjm1PR, col: 0, row: 1 },
  { title: "PJM2 [Jan 3, 2005 – Jan 4, 2009]", unit: "USD", gamma: "1.64", base: pjm2Base, spikes: pjm2Spikes, drops: pjm2Drops, ps: pjm2PS, pr: pjm2PR, col: 1, row: 1 },
  { title: "NEP1 [Jan 1, 2001 – Jan 2, 2005]", unit: "USD", gamma: "0.34", base: nep1Base, spikes: nep1Spikes, drops: nep1Drops, ps: nep1PS, pr: nep1PR, col: 0, row: 2 },
  { title: "NEP2 [Jan 3, 2005 – Jan 4, 2009]", unit: "USD", gamma: "1.27", base: nep2Base, spikes: nep2Spikes, drops: nep2Drops, ps: nep2PS, pr: nep2PR, col: 1, row: 2 },
]

const tickStyle = { fill: "#000", fontSize: 17.5, fontFamily: FONT }

function SpikeDot(p: any) {
  return <circle cx={p.cx} cy={p.cy} r={2.7} fill={RED} />
}

function DropX(p: any) {
  const s = 1.8
  return (
    <path
      d={`M${p.cx - s},${p.cy - s}L${p.cx + s},${p.cy + s}M${p.cx - s},${p.cy + s}L${p.cx + s},${p.cy - s}`}
      stroke="#000"
      strokeWidth={1}
    />
  )
}

function Frame({ left, top, h, yDomain, yTicks, children }: any) {
  return (
    <div style={{ position: "absolute", left: left - ML, top: top - MT }}>
      <ComposedChart width={PW + ML + MR} height={h + MT + MB} margin={{ top: MT, right: MR, bottom: 0, left: 0 }}>
        <XAxis dataKey="x" type="number" domain={[0, 1460]} ticks={X_TICKS} interval={0} height={MB}
          tickSize={-5} tickMargin={13} stroke="#000" tick={tickStyle} allowDataOverflow />
        <XAxis xAxisId="t" orientation="top" dataKey="x" type="number" domain={[0, 1460]} ticks={X_TICKS}
          interval={0} height={0} tickSize={-5} tick={false} stroke="#000" allowDataOverflow />
        <YAxis type="number" domain={yDomain} ticks={yTicks} interval={0} width={ML} tickSize={-5}
          tickMargin={10} stroke="#000" tick={tickStyle} allowDataOverflow />
        <YAxis yAxisId="r" orientation="right" type="number" domain={yDomain} ticks={yTicks} interval={0}
          width={0} tickSize={-5} tick={false} stroke="#000" allowDataOverflow />
        {children}
      </ComposedChart>
    </div>
  )
}

function VLabel({ cx, cy, text, size = 19, spacing = 0 }: any) {
  return (
    <div
      style={{
        position: "absolute", left: cx, top: cy, whiteSpace: "nowrap", fontSize: size, lineHeight: 1,
        letterSpacing: spacing, transform: "translate(-50%, -50%) rotate(-90deg)",
      }}
    >
      {text}
    </div>
  )
}

function LegendBox({ left, top, gamma }: { left: number; top: number; gamma: string }) {
  const rows = [13, 33, 54]
  const s = 1.8
  return (
    <div style={{ position: "absolute", left, top, width: 126, height: 70, border: "1px solid #000", background: "#fff", boxSizing: "border-box" }}>
      <svg width={124} height={68} style={{ position: "absolute", left: 0, top: 0 }}>
        <line x1={9} x2={62} y1={rows[0]} y2={rows[0]} stroke={BLUE} strokeWidth={1.3} />
        <circle cx={36} cy={rows[1]} r={2.7} fill={RED} />
        <path d={`M${36 - s},${rows[2] - s}L${36 + s},${rows[2] + s}M${36 - s},${rows[2] + s}L${36 + s},${rows[2] - s}`} stroke="#000" />
      </svg>
      {["γ=" + gamma, "Spike", "Drop"].map((t, i) => (
        <div key={t} style={{ position: "absolute", left: i === 0 ? 62 : 69, top: rows[i] - 10, fontSize: 17, lineHeight: "20px" }}>{t}</div>
      ))}
    </div>
  )
}

function Panel({ p }: { p: (typeof PANELS)[number] }) {
  const left = COL_X[p.col]
  const top = ROW_Y[p.row]
  const yMin = p.row === 0 ? 1 : 2
  const yTicks = p.row === 0 ? [1, 2, 3, 4, 5, 6] : [2, 3, 4, 5, 6]
  const line = priceLine(p.base, p.spikes, p.drops)
  const legendLeft = p.col === 0 ? left + PW - 8 - 126 : left + 9
  const legendTop = p.col === 0 ? top + 3 : top + PH - 4 - 70
  return (
    <>
      <div style={{ position: "absolute", left, top: top - 32, width: PW, textAlign: "center", fontSize: 19, letterSpacing: 0.9, lineHeight: "22px", whiteSpace: "nowrap" }}>
        {p.title}
      </div>
      <VLabel cx={LABEL_X[p.col]} cy={top + PH / 2} text={`Log–price [${p.unit}/MWh]`} spacing={1} />
      <VLabel cx={LABEL_X[p.col]} cy={top + PS_OFF + SH / 2} text="P(S)" />
      <VLabel cx={LABEL_X[p.col]} cy={top + PR_OFF + SH / 2 - 4} text="P(Rt=s)" />

      <Frame left={left} top={top} h={PH} yDomain={[yMin, 6]} yTicks={yTicks}>
        <Line data={line} dataKey="y" stroke={BLUE} strokeWidth={1.3} dot={false} isAnimationActive={false} />
        <Scatter data={toPts(p.spikes)} dataKey="y" shape={SpikeDot} isAnimationActive={false} />
        <Scatter data={toPts(p.drops)} dataKey="y" shape={DropX} isAnimationActive={false} />
      </Frame>
      <LegendBox left={legendLeft} top={legendTop} gamma={p.gamma} />

      <Frame left={left} top={top + PS_OFF} h={SH} yDomain={[0, 1]} yTicks={[0, 0.5, 1]}>
        <Line data={pulseLine(p.ps)} dataKey="y" stroke={BLUE} strokeWidth={1} dot={false} isAnimationActive={false} />
      </Frame>

      <Frame left={left} top={top + PR_OFF} h={SH} yDomain={[0, 0.5]} yTicks={[0, 0.5]}>
        <Line data={toPts(p.pr)} type="monotone" dataKey="y" stroke={RED} strokeWidth={2} dot={false} isAnimationActive={false} />
      </Frame>
    </>
  )
}

export default function App() {
  const letters = [
    { t: "A", y: ROW_Y[0] - 41 },
    { t: "B", y: ROW_Y[1] - 49 },
    { t: "C", y: ROW_Y[2] - 46 },
  ]
  return (
    <div style={{ position: "absolute", left: 0, top: 0, width: 871, height: 1362, overflow: "hidden", background: "#fff", fontFamily: FONT, color: "#000" }}>
      {letters.map((l) => (
        <div key={l.t} style={{ position: "absolute", left: 11, top: l.y - 16, fontSize: 31, lineHeight: "32px" }}>{l.t}</div>
      ))}
      {PANELS.map((p) => (
        <Panel key={p.title} p={p} />
      ))}
    </div>
  )
}
